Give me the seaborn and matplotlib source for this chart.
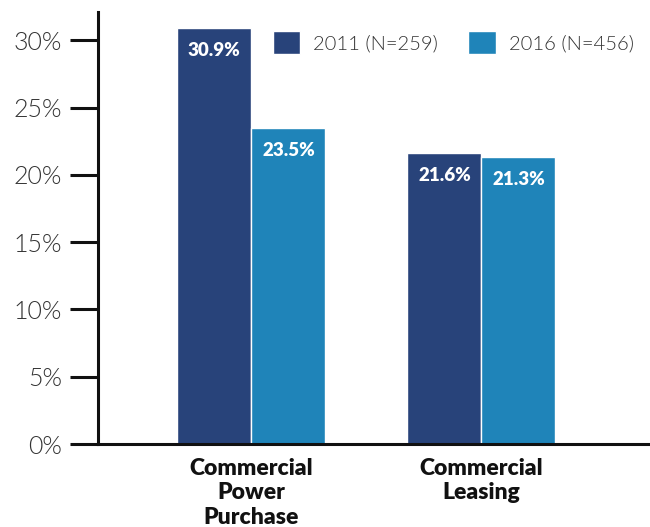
import matplotlib
matplotlib.use("Agg")
import matplotlib.pyplot as plt
import seaborn as sns
import pandas as pd

# Survey shares by ownership model and survey year
categories = ["Commercial\nPower\nPurchase", "Commercial\nLeasing"]
years = ["2011 (N=259)", "2016 (N=456)"]
values_2011 = [30.9, 21.6]
values_2016 = [23.5, 21.3]
ytick_values = [0, 5, 10, 15, 20, 25, 30]
ytick_labels = ["0%", "5%", "10%", "15%", "20%", "25%", "30%"]
colors = ["#28437a", "#1f84b9"]

df = pd.DataFrame({
    "category": categories * 2,
    "year": [years[0]] * 2 + [years[1]] * 2,
    "value": values_2011 + values_2016,
})

sns.set_theme(style="white")
plt.rcParams["font.family"] = ["Lato", "DejaVu Sans"]

fig = plt.figure(figsize=(6.5, 5.27), dpi=100)
ax = fig.add_axes([98 / 650, 83 / 527, 1 - 98 / 650, (444 - 12) / 527])

sns.barplot(data=df, x="category", y="value", hue="year", order=categories,
            hue_order=years, palette=colors, width=0.644, ax=ax,
            edgecolor="white", linewidth=1, saturation=1, errorbar=None)

ax.set_xlim(-0.667, 1.733)
ax.set_ylim(0, 32.1)
ax.set_xlabel("")
ax.set_ylabel("")

ax.set_yticks(ytick_values)
ax.set_yticklabels(ytick_labels, fontsize=18, fontweight=300, color="#333333")
ax.tick_params(axis="y", direction="out", length=20, width=2.2, color="#111111", pad=6, left=True)
ax.tick_params(axis="x", length=0, pad=10)
for lbl in ax.get_xticklabels():
    lbl.set_fontsize(16.5)
    lbl.set_fontweight("heavy")
    lbl.set_color("#111111")
    lbl.set_linespacing(1.2)
    lbl.set_verticalalignment("top")

for side in ["top", "right"]:
    ax.spines[side].set_visible(False)
for side in ["left", "bottom"]:
    ax.spines[side].set_linewidth(2.2)
    ax.spines[side].set_color("#111111")

# value labels inside the top of each bar
for container in ax.containers:
    for bar in container:
        h = bar.get_height()
        ax.annotate(f"{h:.1f}%", (bar.get_x() + bar.get_width() / 2, h),
                    xytext=(0, -10), textcoords="offset points",
                    ha="center", va="top", color="white",
                    fontsize=13.5, fontweight="heavy")

ax.legend(loc="upper left", bbox_to_anchor=(273 / 650, 1 - 31 / 527),
          bbox_transform=fig.transFigure, ncol=2, frameon=False,
          borderpad=0, borderaxespad=0,
          handlelength=1.35, handleheight=1.35, handletextpad=0.65,
          columnspacing=1.5, prop={"weight": 300, "size": 14.5})
for t in ax.get_legend().get_texts():
    t.set_color("#333333")

fig.savefig("out.png", dpi=100)
